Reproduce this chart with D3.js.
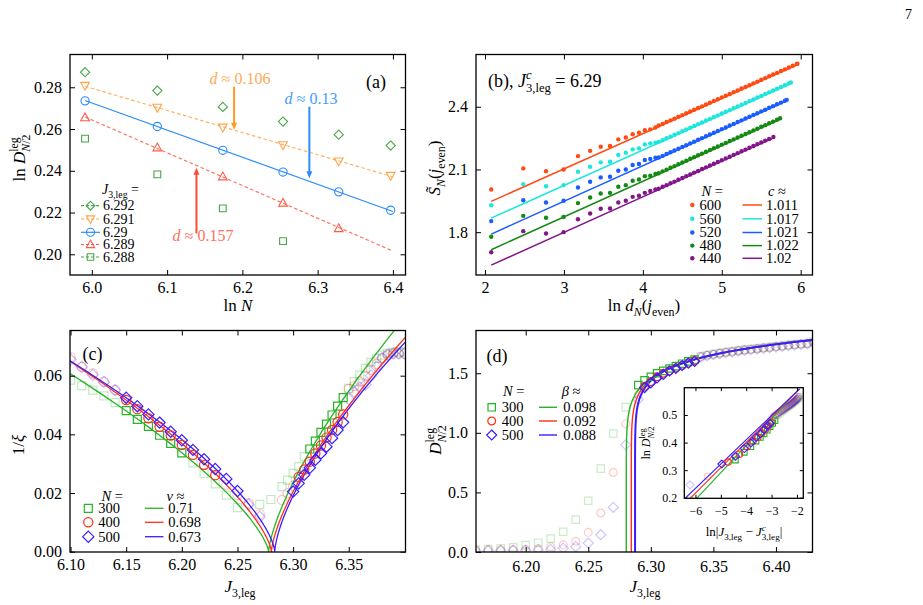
<!DOCTYPE html>
<html>
<head>
<meta charset="utf-8">
<script src="https://d3js.org/d3.v7.min.js"></script>
<style>
  body { margin: 0; background: #fff; }
  text { font-family: 'Liberation Serif', 'DejaVu Serif', serif; }
</style>
</head>
<body>
<div id="fig"></div>
<script>
// ---------- data ----------
// (a) ln D vs ln N for several J3,leg
var lnN = [5.991, 6.087, 6.174, 6.254, 6.328, 6.397];
var J3a = ["6.292", "6.291", "6.29", "6.289", "6.288"];
var lnD6292 = [0.2872, 0.2784, 0.2706, 0.2636, 0.2573, 0.2521];
var lnD6291 = [0.2808, 0.2703, 0.2608, 0.2524, 0.2446, 0.2377];
var lnD6290 = [0.2735, 0.2612, 0.2498, 0.2394, 0.2299, 0.2211];
var lnD6289 = [0.2655, 0.2511, 0.2372, 0.2246, 0.2124];
var lnD6288 = [0.2554, 0.2383, 0.2220, 0.2063];
var dFit = [null, 0.106, 0.13, 0.157, null];
var arrowX = [6.189, 6.289, 6.139];
var arrowFrom = [0.2803, 0.2707, 0.2100];
var arrowTo = [0.2596, 0.2364, 0.2415];
var arrowLabel = ["0.106", "0.13", "0.157"];

// (b) entanglement entropy vs ln chord distance
var Nb = [600, 560, 520, 480, 440];
var cFit = [1.011, 1.017, 1.021, 1.022, 1.02];
var bFit = [1.597, 1.515, 1.437, 1.362, 1.289];
var lnDj = [2.079, 2.485, 2.773, 2.996, 3.178, 3.332, 3.466, 3.584, 3.689, 3.784, 3.871, 3.951, 4.025, 4.094, 4.159];
var lnDtail = [4.20, 4.25, 4.30, 4.35, 4.40, 4.45, 4.50, 4.55, 4.60, 4.65, 4.70, 4.75, 4.80, 4.85, 4.90, 4.95,
  5.00, 5.05, 5.10, 5.15, 5.20, 5.25, 5.30, 5.35, 5.40, 5.45, 5.50, 5.55, 5.60, 5.65, 5.70, 5.75, 5.80, 5.85, 5.90, 5.95];
var S600 = [2.004, 2.105, 2.092, 2.100, 2.164, 2.189, 2.209, 2.212, 2.244, 2.253, 2.269, 2.276, 2.288, 2.292, 2.301,
  2.310, 2.318, 2.327, 2.335, 2.343, 2.352, 2.360, 2.369, 2.377, 2.386, 2.394, 2.402, 2.411, 2.419, 2.428, 2.436,
  2.445, 2.453, 2.461, 2.470, 2.478, 2.487, 2.495, 2.503, 2.512, 2.520, 2.529, 2.537, 2.546, 2.554, 2.562, 2.571,
  2.579, 2.588, 2.596, 2.605];
var S560 = [1.929, 2.030, 2.020, 2.025, 2.089, 2.113, 2.134, 2.137, 2.169, 2.180, 2.196, 2.201, 2.220, 2.225, 2.228,
  2.232, 2.240, 2.249, 2.257, 2.266, 2.274, 2.283, 2.291, 2.300, 2.308, 2.317, 2.325, 2.334, 2.342, 2.351, 2.359,
  2.368, 2.376, 2.384, 2.393, 2.401, 2.410, 2.418, 2.427, 2.435, 2.444, 2.452, 2.461, 2.469, 2.478, 2.486, 2.495,
  2.503, 2.512];
var S520 = [1.853, 1.953, 1.942, 1.950, 2.014, 2.041, 2.062, 2.065, 2.094, 2.100, 2.121, 2.126, 2.145, 2.150, 2.156,
  2.157, 2.165, 2.174, 2.182, 2.191, 2.199, 2.208, 2.216, 2.225, 2.233, 2.242, 2.250, 2.259, 2.267, 2.276, 2.284,
  2.293, 2.301, 2.310, 2.318, 2.327, 2.335, 2.344, 2.352, 2.361, 2.369, 2.378, 2.386, 2.395, 2.403, 2.412, 2.420, 2.429];
var S480 = [1.778, 1.878, 1.869, 1.873, 1.939, 1.966, 1.985, 1.988, 2.017, 2.025, 2.046, 2.052, 2.068, 2.070, 2.078,
  2.082, 2.091, 2.099, 2.108, 2.116, 2.125, 2.133, 2.142, 2.151, 2.159, 2.168, 2.176, 2.185, 2.193, 2.202, 2.210,
  2.219, 2.227, 2.236, 2.244, 2.253, 2.261, 2.270, 2.278, 2.287, 2.295, 2.304, 2.312, 2.321, 2.329, 2.338];
var S440 = [1.704, 1.805, 1.794, 1.800, 1.862, 1.889, 1.912, 1.913, 1.942, 1.950, 1.969, 1.974, 1.988, 1.997, 2.004,
  2.008, 2.017, 2.025, 2.034, 2.042, 2.051, 2.059, 2.068, 2.076, 2.085, 2.093, 2.102, 2.110, 2.119, 2.127, 2.136,
  2.144, 2.153, 2.161, 2.170, 2.178, 2.187, 2.195, 2.204, 2.212, 2.221, 2.229, 2.238, 2.246];
var lnDend = [5.958, 5.876, 5.823, 5.739, 5.654];
var Send = [2.606, 2.516, 2.433, 2.345, 2.255];

// (c) inverse correlation length
var Ncd = [300, 400, 500];
var nuFit = [0.71, 0.698, 0.673];
var JcC = [6.278, 6.2805, 6.2835];
var AL = [0.2064, 0.2141, 0.2034];
var AR = [0.3547, 0.3203, 0.3022];
var c300J = [6.15, 6.16, 6.17, 6.18, 6.19, 6.20, 6.315, 6.32, 6.325, 6.33, 6.335, 6.34, 6.345];
var c300v = [0.0481, 0.0451, 0.0427, 0.0397, 0.0369, 0.0337, 0.0350, 0.0377, 0.0407, 0.0435, 0.0466, 0.0496, 0.0525];
var c300fJ = [6.10, 6.11, 6.12, 6.13, 6.14, 6.21, 6.22, 6.23, 6.24, 6.25, 6.27, 6.28, 6.29, 6.295, 6.30, 6.305, 6.31,
  6.35, 6.355, 6.36, 6.365, 6.37, 6.375, 6.38, 6.385, 6.39, 6.395, 6.40];
var c300fv = [0.0585, 0.0566, 0.0551, 0.0531, 0.0508, 0.0303, 0.0267, 0.0231, 0.0193, 0.0150, 0.0161, 0.0178,
  0.0222, 0.0244, 0.0267, 0.0290, 0.0324, 0.0557, 0.0580, 0.0602, 0.0625, 0.0646, 0.0659, 0.0670, 0.0676, 0.0680, 0.0680, 0.0680];
var c400J = [6.15, 6.16, 6.17, 6.18, 6.19, 6.20, 6.21, 6.22, 6.23, 6.305, 6.31, 6.315, 6.32, 6.325, 6.33, 6.335, 6.34, 6.345];
var c400v = [0.0517, 0.0486, 0.0455, 0.0426, 0.0396, 0.0364, 0.0330, 0.0296, 0.0261, 0.0255, 0.0280, 0.0307, 0.0335,
  0.0362, 0.0389, 0.0415, 0.0442, 0.0468];
var c400fJ = [6.10, 6.11, 6.12, 6.13, 6.14, 6.24, 6.25, 6.26, 6.27, 6.29, 6.295, 6.30,
  6.35, 6.355, 6.36, 6.365, 6.37, 6.375, 6.38, 6.385, 6.39, 6.395, 6.40];
var c400fv = [0.0663, 0.0630, 0.0608, 0.0580, 0.0551, 0.0228, 0.0193, 0.0165, 0.0128, 0.0176, 0.0199, 0.0225,
  0.0555, 0.0565, 0.0580, 0.0600, 0.0620, 0.0640, 0.0660, 0.0670, 0.0675, 0.0675, 0.0675];
var c500J = [6.15, 6.16, 6.17, 6.18, 6.19, 6.20, 6.21, 6.22, 6.23, 6.24, 6.25,
  6.30, 6.305, 6.31, 6.315, 6.32, 6.325, 6.33, 6.335, 6.34, 6.345];
var c500v = [0.0525, 0.0496, 0.0468, 0.0440, 0.0409, 0.0380, 0.0347, 0.0315, 0.0282, 0.0248, 0.0207,
  0.0205, 0.0233, 0.0262, 0.0286, 0.0313, 0.0335, 0.0358, 0.0387, 0.0415, 0.0441];
var c500fJ = [6.10, 6.11, 6.12, 6.13, 6.14, 6.26, 6.27, 6.35, 6.355, 6.36, 6.365, 6.37, 6.375, 6.38, 6.385, 6.39, 6.395, 6.40];
var c500fv = [0.0655, 0.0630, 0.0603, 0.0578, 0.0551, 0.0161, 0.0119, 0.0520, 0.0545, 0.0560, 0.0570, 0.0600,
  0.0630, 0.0660, 0.0672, 0.0676, 0.0676, 0.0676];

// (d) order parameter
var betaFit = [0.098, 0.092, 0.088];
var JcD = [6.2804, 6.2844, 6.2874];
var Bamp = [2.1444, 2.1254, 2.1128];
var JcIn = [6.278, 6.286, 6.288];
var insetA = [0.781, 0.769, 0.762];
var dJlow = [6.16, 6.17, 6.18, 6.19, 6.20, 6.21, 6.22, 6.23, 6.24, 6.25, 6.26, 6.27, 6.28];
var d300low = [0.020, 0.025, 0.032, 0.040, 0.058, 0.078, 0.112, 0.170, 0.272, 0.430, 0.700, 0.994, 1.216];
var d400low = [0.018, 0.018, 0.019, 0.020, 0.022, 0.030, 0.045, 0.060, 0.090, 0.165, 0.327, 0.667, 1.075];
var d500low = [0.012, 0.012, 0.013, 0.014, 0.015, 0.017, 0.022, 0.032, 0.045, 0.075, 0.145, 0.374, 0.899];
var dJ300 = [6.29, 6.295, 6.30, 6.305, 6.31, 6.315, 6.32, 6.325, 6.33, 6.335];
var d300 = [1.40, 1.44, 1.47, 1.50, 1.52, 1.54, 1.56, 1.58, 1.60, 1.615];
var dJ400 = [6.295, 6.30, 6.305, 6.31, 6.315, 6.32, 6.325, 6.33, 6.335];
var d400 = [1.39, 1.43, 1.47, 1.50, 1.52, 1.545, 1.565, 1.585, 1.605];
var d500 = [1.38, 1.42, 1.46, 1.49, 1.52, 1.54, 1.565, 1.585, 1.60];
var dJnear = [6.29];
var d400near = [1.32];
var d500near = [1.28];
var dJhigh = [6.34, 6.345, 6.35, 6.355, 6.36, 6.365, 6.37, 6.375, 6.38, 6.385, 6.39, 6.395, 6.40, 6.405, 6.41, 6.415, 6.42, 6.425, 6.43];
var d300high = [1.642, 1.653, 1.661, 1.670, 1.678, 1.684, 1.692, 1.698, 1.703, 1.709, 1.714, 1.720, 1.726, 1.731, 1.737, 1.742, 1.748, 1.753, 1.765];
var d400high = [1.639, 1.650, 1.658, 1.667, 1.675, 1.681, 1.689, 1.695, 1.700, 1.706, 1.711, 1.717, 1.723, 1.728, 1.734, 1.739, 1.745, 1.750, 1.762];
var d500high = [1.636, 1.646, 1.655, 1.664, 1.672, 1.678, 1.686, 1.692, 1.697, 1.703, 1.708, 1.714, 1.720, 1.725, 1.731, 1.736, 1.742, 1.747, 1.758];

// ---------- setup ----------
var W = 923, H = 605;
var svg = d3.select("#fig").append("svg").attr("width", W).attr("height", H);

var colA = ["#45a845", "#ffa347", "#2b8cff", "#ff5a47", "#45a845"];
var markA = ["diamond", "tri-down", "circle", "tri-up", "square"];
var colB = ["#ff4a12", "#1de6dc", "#1a5cff", "#148a14", "#82168a"];
var colCD = ["#27b427", "#ff2f1a", "#3a1dff"];
var markCD = ["square", "circle", "diamond"];

function mpath(type, r) {
  if (type == "square") return "M" + (-r) + "," + (-r) + "h" + 2 * r + "v" + 2 * r + "h" + (-2 * r) + "Z";
  if (type == "diamond") return "M0," + (-r) + "L" + r + ",0L0," + r + "L" + (-r) + ",0Z";
  if (type == "tri-up") return "M0," + (-r) + "L" + r * 0.95 + "," + r * 0.7 + "L" + (-r * 0.95) + "," + r * 0.7 + "Z";
  if (type == "tri-down") return "M0," + r + "L" + r * 0.95 + "," + (-r * 0.7) + "L" + (-r * 0.95) + "," + (-r * 0.7) + "Z";
  return d3.symbol(d3.symbolCircle, Math.PI * r * r)();
}

// text with italic / sub / sup pieces
function mt(parent, x, y, parts, o) {
  o = o || {};
  var fs = o.size || 15;
  var t = parent.append("text").attr("x", x).attr("y", y).attr("font-size", fs)
    .attr("fill", o.color || "#000").attr("text-anchor", o.anchor || "start");
  if (o.rotate) t.attr("transform", "rotate(-90," + x + "," + y + ")");
  var cur = 0, prev = null;
  parts.forEach(function(p) {
    if (typeof p == "string") p = { t: p };
    var lvl = p.sub ? fs * 0.3 : p.sup ? -fs * 0.42 : 0;
    var ts = t.append("tspan").text(p.t).attr("dy", lvl - cur);
    cur = lvl;
    if (p.i) ts.attr("font-style", "italic");
    if (p.sub || p.sup) ts.attr("font-size", fs * 0.7);
    if (p.under && prev) ts.attr("dx", -prev.getComputedTextLength());
    prev = ts.node();
  });
  return t;
}

function frame(g, x, y, xt, yt, xf, yf, o) {
  o = o || {};
  var fs = o.size || 16, tl = o.tick || 5;
  var x0 = x.range()[0], x1 = x.range()[1], y0 = y.range()[1], y1 = y.range()[0];
  function clean(s) { s.select(".domain").remove(); s.attr("font-family", null).attr("font-size", fs); s.selectAll("line").attr("stroke", "#000"); }
  g.append("g").attr("transform", "translate(0," + y1 + ")")
    .call(d3.axisBottom(x).tickValues(xt).tickFormat(xf).tickSize(-tl).tickSizeOuter(0).tickPadding(o.padB || 6.5)).call(clean);
  g.append("g").attr("transform", "translate(0," + y0 + ")")
    .call(d3.axisTop(x).tickValues(xt).tickFormat("").tickSize(-tl).tickSizeOuter(0)).call(clean);
  g.append("g").attr("transform", "translate(" + x0 + ",0)")
    .call(d3.axisLeft(y).tickValues(yt).tickFormat(yf).tickSize(-tl).tickSizeOuter(0).tickPadding(o.padL || 8)).call(clean);
  g.append("g").attr("transform", "translate(" + x1 + ",0)")
    .call(d3.axisRight(y).tickValues(yt).tickFormat("").tickSize(-tl).tickSizeOuter(0)).call(clean);
  g.append("rect").attr("x", x0).attr("y", y0).attr("width", x1 - x0).attr("height", y1 - y0)
    .attr("fill", "none").attr("stroke", "#000").attr("stroke-width", 1.3);
}

function clip(id, x, y) {
  svg.append("clipPath").attr("id", id).append("rect")
    .attr("x", x.range()[0]).attr("y", y.range()[1])
    .attr("width", x.range()[1] - x.range()[0]).attr("height", y.range()[0] - y.range()[1]);
}

function markers(g, xs, ys, x, y, type, r, col, op, sw) {
  g.selectAll(null).data(xs.map(function(v, i) { return [v, ys[i]]; })).enter().append("path")
    .attr("d", mpath(type, r))
    .attr("transform", function(d) { return "translate(" + x(d[0]) + "," + y(d[1]) + ")"; })
    .attr("fill", "none").attr("stroke", col).attr("stroke-opacity", op).attr("stroke-width", sw || 1.2);
}

mt(svg, 905, 19, ["7"], { size: 14 });

// ---------- panel (a) ----------
var xa = d3.scaleLinear().domain([5.971, 6.4167]).range([70, 405.5]);
var ya = d3.scaleLinear().domain([0.19008, 0.2957]).range([275, 54.5]);
var ga = svg.append("g");
var seriesA = [lnD6292, lnD6291, lnD6290, lnD6289, lnD6288];
seriesA.forEach(function(s, i) {
  if (dFit[i] == null) return;
  var xs = lnN.slice(0, s.length);
  var b = d3.mean(s) + dFit[i] * d3.mean(xs);
  var ends = [lnN[0], 6.40];
  ga.append("path").datum(ends)
    .attr("d", d3.line().x(function(v) { return xa(v); }).y(function(v) { return ya(b - dFit[i] * v); }))
    .attr("stroke", colA[i]).attr("stroke-width", 1.2).attr("fill", "none")
    .attr("stroke-dasharray", i == 2 ? null : "3.5,2.5").attr("opacity", i == 2 ? 1 : 0.85);
});
seriesA.forEach(function(s, i) {
  markers(ga, lnN.slice(0, s.length), s, xa, ya, markA[i], i == 2 ? 4.1 : i == 4 ? 3.4 : 4.6, colA[i], 1, 1.1);
});
var arrCol = ["#ff9a1f", "#2b8cff", "#ff4a35"];
var arrTxt = ["#ffaa55", "#3f9dff", "#ff6f5e"];
var labPos = [[240, 84], [311, 104], [203, 241]];
arrowX.forEach(function(v, i) {
  var px = xa(v), p0 = ya(arrowFrom[i]), p1 = ya(arrowTo[i]);
  var dir = p1 > p0 ? 1 : -1;
  ga.append("line").attr("x1", px).attr("x2", px).attr("y1", p0).attr("y2", p1 - dir * 6)
    .attr("stroke", arrCol[i]).attr("stroke-width", 2);
  ga.append("path").attr("d", "M" + (px - 3) + "," + (p1 - dir * 7) + "L" + (px + 3) + "," + (p1 - dir * 7) + "L" + px + "," + p1 + "Z")
    .attr("fill", arrCol[i]);
  mt(ga, labPos[i][0], labPos[i][1], [{ t: "d", i: 1 }, " \u2248 " + arrowLabel[i]], { size: 16, color: arrTxt[i], anchor: "middle" });
});
frame(ga, xa, ya, [6.0, 6.1, 6.2, 6.3, 6.4], [0.20, 0.22, 0.24, 0.26, 0.28], d3.format(".1f"), d3.format(".2f"));
mt(ga, 366, 88, ["(a)"], { size: 18 });
mt(ga, 102, 194, [{ t: "J", i: 1 }, { t: "3,leg", sub: 1 }, " ="], { size: 14 });
var legAy = [205.7, 219, 232.3, 244.5, 257];
J3a.forEach(function(lab, i) {
  var yy = legAy[i];
  ga.append("line").attr("x1", 81).attr("x2", 100).attr("y1", yy).attr("y2", yy)
    .attr("stroke", colA[i]).attr("stroke-width", 1.2).attr("stroke-dasharray", i == 2 ? null : "3,2");
  markers(ga, [0], [0], function() { return 90.5; }, function() { return yy; }, markA[i], i == 2 ? 4 : i == 4 ? 3.3 : 4.4, colA[i], 1, 1.1);
  mt(ga, 103, yy + 4.5, [lab], { size: 14 });
});
mt(ga, 25, 158, ["ln ", { t: "D", i: 1 }, { t: "leg", sup: 1 }, { t: "N", sub: 1, i: 1, under: 1 }, { t: "/2", sub: 1 }], { size: 17, rotate: 1, anchor: "middle" });
mt(ga, 238, 311, ["ln ", { t: "N", i: 1 }], { size: 17, anchor: "middle" });

// ---------- panel (b) ----------
var xb = d3.scaleLinear().domain([1.886, 6.1495]).range([476, 812.5]);
var yb = d3.scaleLinear().domain([1.5951, 2.65]).range([275, 54.5]);
var gb = svg.append("g");
var seriesB = [S600, S560, S520, S480, S440];
var lnDall = lnDj.concat(lnDtail);
seriesB.forEach(function(s, i) {
  var pts = s.map(function(v, k) { return [lnDall[k], v]; });
  pts.push([lnDend[i], Send[i]]);
  gb.selectAll(null).data(pts).enter().append("circle")
    .attr("cx", function(d) { return xb(d[0]); }).attr("cy", function(d) { return yb(d[1]); })
    .attr("r", 2.2).attr("fill", colB[i]);
  var m = cFit[i] / 6;
  gb.append("path").datum([lnDj[0], lnDend[i]])
    .attr("d", d3.line().x(function(v) { return xb(v); }).y(function(v) { return yb(m * v + bFit[i]); }))
    .attr("stroke", colB[i]).attr("stroke-width", 1.5).attr("fill", "none");
});
frame(gb, xb, yb, [2, 3, 4, 5, 6], [1.8, 2.1, 2.4], d3.format("d"), d3.format(".1f"));
mt(gb, 488, 87, ["(b), ", { t: "J", i: 1 }, { t: "c", sup: 1, i: 1 }, { t: "3,leg", sub: 1, under: 1 }, " = 6.29"], { size: 18 });
mt(gb, 701.5, 195.5, [{ t: "N", i: 1 }, " ="], { size: 14.5 });
mt(gb, 768, 195.5, [{ t: "c", i: 1 }, " \u2248"], { size: 14.5 });
var legBy = [205, 218.8, 232.5, 245.6, 258.3];
Nb.forEach(function(n, i) {
  var yy = legBy[i];
  gb.append("circle").attr("cx", 692.3).attr("cy", yy).attr("r", 2.2).attr("fill", colB[i]);
  mt(gb, 699.5, yy + 4.8, [String(n)], { size: 14.5 });
  gb.append("line").attr("x1", 742.5).attr("x2", 762).attr("y1", yy).attr("y2", yy).attr("stroke", colB[i]).attr("stroke-width", 1.5);
  mt(gb, 766, yy + 4.8, [String(cFit[i])], { size: 14.5 });
});
mt(gb, 440, 168, [{ t: "S\u0303", i: 1 }, { t: "N", sub: 1, i: 1 }, "(", { t: "j", i: 1 }, { t: "even", sub: 1 }, ")"], { size: 17, rotate: 1, anchor: "middle" });
mt(gb, 644, 311, ["ln ", { t: "d", i: 1 }, { t: "N", sub: 1, i: 1 }, "(", { t: "j", i: 1 }, { t: "even", sub: 1 }, ")"], { size: 17, anchor: "middle" });

// ---------- panel (c) ----------
var xc = d3.scaleLinear().domain([6.0995, 6.401]).range([70, 405.5]);
var yc = d3.scaleLinear().domain([-0.0001, 0.0754]).range([552, 330.5]);
clip("clipC", xc, yc);
var gc = svg.append("g");
var gcc = gc.append("g").attr("clip-path", "url(#clipC)");
var cBold = [[c300J, c300v], [c400J, c400v], [c500J, c500v]];
var cFaded = [[c300fJ, c300fv], [c400fJ, c400fv], [c500fJ, c500fv]];
var rC = [4, 4.6, 5.6];
cFaded.forEach(function(s, i) { markers(gcc, s[0], s[1], xc, yc, markCD[i], rC[i], colCD[i], 0.28); });
Ncd.forEach(function(n, i) {
  var jc = JcC[i], pts = [], n0 = 160, k, t;
  var tl = jc - xc.domain()[0], tr = xc.domain()[1] - jc;
  for (k = 0; k <= n0; k++) { t = tl * Math.pow(1e-6, k / n0); pts.push([jc - t, AL[i] * Math.pow(t, nuFit[i])]); }
  pts.push([jc, 0]);
  for (k = n0; k >= 0; k--) { t = tr * Math.pow(1e-6, k / n0); pts.push([jc + t, AR[i] * Math.pow(t, nuFit[i])]); }
  gcc.append("path").datum(pts).attr("d", d3.line().x(function(d) { return xc(d[0]); }).y(function(d) { return yc(d[1]); }))
    .attr("stroke", colCD[i]).attr("stroke-width", 1.3).attr("fill", "none");
});
cBold.forEach(function(s, i) { markers(gcc, s[0], s[1], xc, yc, markCD[i], rC[i], colCD[i], 1); });
frame(gc, xc, yc, [6.10, 6.15, 6.20, 6.25, 6.30, 6.35], [0, 0.02, 0.04, 0.06], d3.format(".2f"), d3.format(".2f"));
mt(gc, 82.5, 360, ["(c)"], { size: 18 });
mt(gc, 101.5, 500.5, [{ t: "N", i: 1 }, " ="], { size: 14.5 });
mt(gc, 166.5, 500.5, [{ t: "\u03bd", i: 1 }, " \u2248"], { size: 14.5 });
var legCy = [508.3, 522.3, 536.7];
Ncd.forEach(function(n, i) {
  var yy = legCy[i];
  markers(gc, [0], [0], function() { return 88.3; }, function() { return yy; }, markCD[i], rC[i], colCD[i], 1);
  mt(gc, 98.3, yy + 4.8, [String(n)], { size: 14.5 });
  gc.append("line").attr("x1", 145).attr("x2", 163.5).attr("y1", yy).attr("y2", yy).attr("stroke", colCD[i]).attr("stroke-width", 1.3);
  mt(gc, 168.3, yy + 4.8, [String(nuFit[i])], { size: 14.5 });
});
mt(gc, 24, 445, ["1/", { t: "\u03be", i: 1 }], { size: 17, rotate: 1, anchor: "middle" });
mt(gc, 240, 592, [{ t: "J", i: 1 }, { t: "3,leg", sub: 1 }], { size: 17, anchor: "middle" });

// ---------- panel (d) ----------
var xd = d3.scaleLinear().domain([6.1603, 6.4292]).range([476, 812.5]);
var yd = d3.scaleLinear().domain([0, 1.8587]).range([552, 330.5]);
clip("clipD", xd, yd);
var gd = svg.append("g");
var gdc = gd.append("g").attr("clip-path", "url(#clipD)");
var rD = [3.7, 3.9, 5];
var dFaded = [
  [dJlow.concat(dJhigh), d300low.concat(d300high)],
  [dJlow.concat(dJnear, dJhigh), d400low.concat(d400near, d400high)],
  [dJlow.concat(dJnear, dJhigh), d500low.concat(d500near, d500high)]
];
var dBold = [[dJ300, d300], [dJ400, d400], [dJ400, d500]];
dFaded.forEach(function(s, i) { markers(gdc, s[0], s[1], xd, yd, markCD[i], rD[i], colCD[i], 0.25); });
Ncd.forEach(function(n, i) {
  var jc = JcD[i], pts = [[jc, 0]], n0 = 300, k, t;
  var tr = xd.domain()[1] - jc;
  for (k = 0; k <= n0; k++) { t = tr * Math.pow(1e-16, 1 - k / n0); pts.push([jc + t, Bamp[i] * Math.pow(t, betaFit[i])]); }
  gdc.append("path").datum(pts).attr("d", d3.line().x(function(d) { return xd(d[0]); }).y(function(d) { return yd(d[1]); }))
    .attr("stroke", colCD[i]).attr("stroke-width", i == 2 ? 2 : 1.4).attr("fill", "none");
});
dBold.forEach(function(s, i) { markers(gdc, s[0], s[1], xd, yd, markCD[i], rD[i], colCD[i], 1); });
frame(gd, xd, yd, [6.20, 6.25, 6.30, 6.35, 6.40], [0, 0.5, 1.0, 1.5], d3.format(".2f"), d3.format(".1f"), { padB: 9 });
mt(gd, 486.5, 362, ["(d)"], { size: 18 });
mt(gd, 503, 395.5, [{ t: "N", i: 1 }, " ="], { size: 14.5 });
mt(gd, 561.7, 395.5, [{ t: "\u03b2", i: 1 }, " \u2248"], { size: 14.5 });
var legDy = [407.3, 421, 435];
Ncd.forEach(function(n, i) {
  var yy = legDy[i];
  markers(gd, [0], [0], function() { return 491.7; }, function() { return yy; }, markCD[i], rD[i], colCD[i], 1);
  mt(gd, 501.7, yy + 4.8, [String(n)], { size: 14.5 });
  gd.append("line").attr("x1", 539).attr("x2", 557).attr("y1", yy).attr("y2", yy).attr("stroke", colCD[i]).attr("stroke-width", 1.4);
  mt(gd, 563.3, yy + 4.8, [String(betaFit[i])], { size: 14.5 });
});
mt(gd, 441, 440, [{ t: "D", i: 1 }, { t: "leg", sup: 1 }, { t: "N", sub: 1, i: 1, under: 1 }, { t: "/2", sub: 1 }], { size: 17, rotate: 1, anchor: "middle" });
mt(gd, 645, 592, [{ t: "J", i: 1 }, { t: "3,leg", sub: 1 }], { size: 17, anchor: "middle" });

// ---------- inset of (d) ----------
var xi = d3.scaleLinear().domain([-6.44, -1.75]).range([684.3, 803.3]);
var yi = d3.scaleLinear().domain([0.198, 0.599]).range([498.3, 387.7]);
clip("clipI", xi, yi);
var gi = svg.append("g");
gi.append("rect").attr("x", 684.3).attr("y", 387.7).attr("width", 119).attr("height", 110.6).attr("fill", "#fff");
var gic = gi.append("g").attr("clip-path", "url(#clipI)");
function toInset(js, ds, i) {
  var xs = [], ys = [];
  js.forEach(function(j, k) { if (j > JcIn[i]) { xs.push(Math.log(j - JcIn[i])); ys.push(Math.log(ds[k])); } });
  return [xs, ys];
}
var rI = [2.8, 3.2, 4];
dFaded.forEach(function(s, i) { var p = toInset(s[0], s[1], i); markers(gic, p[0], p[1], xi, yi, markCD[i], rI[i], colCD[i], 0.25); });
Ncd.forEach(function(n, i) {
  gic.append("path").datum([-6.44, -1.9])
    .attr("d", d3.line().x(function(v) { return xi(v); }).y(function(v) { return yi(insetA[i] + betaFit[i] * v); }))
    .attr("stroke", colCD[i]).attr("stroke-width", 1.1).attr("fill", "none");
});
dBold.forEach(function(s, i) { var p = toInset(s[0], s[1], i); markers(gic, p[0], p[1], xi, yi, markCD[i], rI[i], colCD[i], 1, 1.1); });
frame(gi, xi, yi, [-6, -5, -4, -3, -2], [0.2, 0.3, 0.4, 0.5], d3.format("d"), d3.format(".1f"), { size: 12, tick: 3.5, padB: 8, padL: 7 });
mt(gi, 650, 443, ["ln ", { t: "D", i: 1 }, { t: "leg", sup: 1 }, { t: "N", sub: 1, i: 1, under: 1 }, { t: "/2", sub: 1 }], { size: 12, rotate: 1, anchor: "middle" });
mt(gi, 744, 536, ["ln|", { t: "J", i: 1 }, { t: "3,leg", sub: 1 }, " \u2212 ", { t: "J", i: 1 }, { t: "c", sup: 1, i: 1 }, { t: "3,leg", sub: 1, under: 1 }, "|"], { size: 13, anchor: "middle" });
</script>
</body>
</html>
